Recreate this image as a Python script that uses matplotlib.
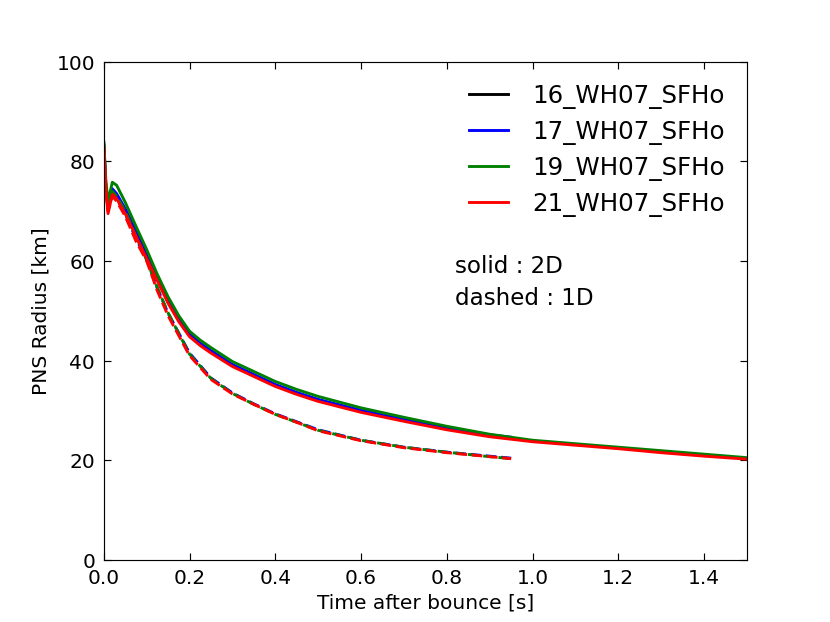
import matplotlib
matplotlib.use('Agg')
import matplotlib.pyplot as plt

# time after bounce [s] and PNS radius [km]
t_2d = [0.0, 0.005, 0.01, 0.02, 0.03, 0.05, 0.075, 0.1, 0.125, 0.15, 0.175, 0.2,
        0.225, 0.25, 0.3, 0.35, 0.4, 0.45, 0.5, 0.6, 0.7, 0.8, 0.9, 1.0, 1.1, 1.2,
        1.3, 1.4, 1.5]
r_19_2d = [84, 76, 72, 75.8, 75.2, 71.8, 67, 62.3, 57.3, 52.8, 49, 45.9,
           44.1, 42.6, 39.8, 37.8, 35.8, 34.2, 32.8, 30.5, 28.6, 26.8, 25.2, 24.0, 23.3, 22.6,
           21.9, 21.2, 20.5]
r_21_2d = [83, 74, 69.5, 73.4, 72.5, 69.5, 65, 60.5, 56, 51.5, 47.8, 44.8,
           43, 41.5, 38.8, 36.8, 34.8, 33.2, 31.8, 29.6, 27.8, 26.1, 24.7, 23.7, 23.0, 22.3,
           21.5, 20.8, 20.2]

t_17_2d = [0.0, 0.005, 0.01, 0.02, 0.03, 0.05, 0.075, 0.1, 0.125, 0.15, 0.175, 0.2,
           0.225, 0.25, 0.3, 0.35, 0.4, 0.45, 0.5, 0.6, 0.7, 0.8, 0.9, 0.95]
r_17_2d = [83.5, 75, 71, 74.5, 73.5, 70.5, 66, 61.3, 56.6, 52.2, 48.3, 45.3,
           43.5, 42, 39.2, 37.2, 35.2, 33.6, 32.2, 30.0, 28.2, 26.5, 25.1, 24.6]

t_1d = [0.0, 0.005, 0.01, 0.02, 0.03, 0.05, 0.075, 0.1, 0.125, 0.15, 0.175, 0.2,
        0.25, 0.3, 0.35, 0.4, 0.45, 0.5, 0.6, 0.7, 0.8, 0.9, 0.95]
r_17_1d = [83.5, 74.5, 70.5, 73.5, 72.5, 69.5, 64.5, 60.3, 54.5, 49.5, 45.5, 41.5,
           36.5, 33.5, 31.3, 29.3, 27.7, 26.1, 24.0, 22.6, 21.6, 20.8, 20.4]
r_19_1d = [84, 75, 71, 74, 73, 70, 65, 60.2, 54.6, 49.6, 45.4, 41.3,
           36.4, 33.4, 31.2, 29.2, 27.6, 26.0, 24.0, 22.6, 21.6, 20.7, 20.3]
r_21_1d = [83, 74, 70, 73, 72, 69, 64, 60, 54, 49, 45, 41,
           36.2, 33.3, 31.2, 29.2, 27.6, 25.9, 23.9, 22.5, 21.5, 20.7, 20.3]

fig = plt.figure(figsize=(8, 6), dpi=103.75)
ax = fig.add_axes([0.125, 0.1, 0.775, 0.8])

ax.plot([], [], 'k-', lw=2, label='16_WH07_SFHo')
ax.plot(t_17_2d, r_17_2d, 'b-', lw=2, label='17_WH07_SFHo')
ax.plot(t_1d, r_17_1d, 'b--', lw=2)
ax.plot(t_2d, r_19_2d, '-', color='green', lw=2, label='19_WH07_SFHo')
ax.plot(t_1d, r_19_1d, '--', color='green', lw=2)
ax.plot(t_2d, r_21_2d, 'r-', lw=2, label='21_WH07_SFHo')
ax.plot(t_1d, r_21_1d, 'r--', lw=2)

ax.set_xlim(0, 1.5)
ax.set_ylim(0, 100)
ax.set_xlabel('Time after bounce [s]', fontsize=14)
ax.set_ylabel('PNS Radius [km]', fontsize=14)
ax.tick_params(direction='in', top=True, right=True, labelsize=14, length=5, pad=6)

ax.legend(loc='upper right', frameon=False, fontsize=17,
          handlelength=1.6, handletextpad=1.0, labelspacing=0.45)
ax.text(0.82, 55.8, 'solid : 2D\ndashed : 1D', fontsize=16, va='center', linespacing=1.5)

fig.savefig('out.png', dpi=103.75)
